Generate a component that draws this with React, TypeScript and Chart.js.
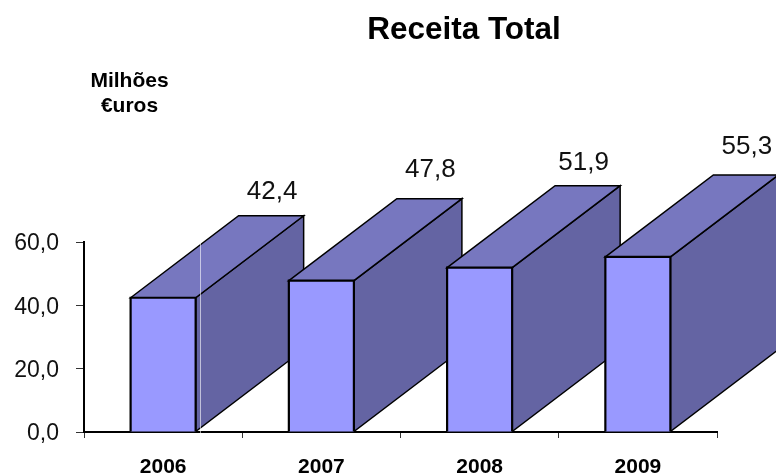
import React, { useEffect, useRef } from "react";
import { Chart, registerables } from "chart.js";

Chart.register(...registerables);

const categories = ["2006", "2007", "2008", "2009"];
const revenue = [42.4, 47.8, 51.9, 55.3];
const yTicks = [0, 20, 40, 60];
const chartTitle = "Receita Total";
const unitLines = ["Milhões", "€uros"];

const FONT = '"Liberation Sans", Arial, sans-serif';
const DEPTH_X = 108;
const DEPTH_Y = 82;
// manual label nudges from the bar's top centre, as placed in the original
const LABEL_NUDGE: [number, number][] = [
  [109, -106],
  [109, -111],
  [104, -105],
  [109, -110],
];

const fmt = (v: number) => v.toFixed(1).replace(".", ",");

const boxPlugin = {
  id: "box3d",
  beforeDatasetsDraw(chart: any) {
    const { ctx } = chart;
    const meta = chart.getDatasetMeta(0);
    ctx.save();
    ctx.lineWidth = 1.5;
    ctx.strokeStyle = "#000";
    ctx.lineJoin = "miter";
    meta.data.forEach((bar: any) => {
      const half = bar.width / 2;
      const l = bar.x - half;
      const r = bar.x + half;
      const t = bar.y;
      const b = bar.base;
      ctx.beginPath();
      ctx.moveTo(r, t);
      ctx.lineTo(r + DEPTH_X, t - DEPTH_Y);
      ctx.lineTo(r + DEPTH_X, b - DEPTH_Y);
      ctx.lineTo(r, b);
      ctx.closePath();
      ctx.fillStyle = "#6464a3";
      ctx.fill();
      ctx.stroke();
      ctx.beginPath();
      ctx.moveTo(l, t);
      ctx.lineTo(l + DEPTH_X, t - DEPTH_Y);
      ctx.lineTo(r + DEPTH_X, t - DEPTH_Y);
      ctx.lineTo(r, t);
      ctx.closePath();
      ctx.fillStyle = "#7777bf";
      ctx.fill();
      ctx.stroke();
    });
    ctx.restore();
  },
  afterDatasetsDraw(chart: any) {
    const { ctx, chartArea } = chart;
    const meta = chart.getDatasetMeta(0);
    ctx.save();
    // front-face outline, centred on the bar's edges
    ctx.strokeStyle = "#000";
    ctx.lineWidth = 2.2;
    ctx.lineJoin = "miter";
    meta.data.forEach((bar: any) => {
      const half = bar.width / 2;
      ctx.beginPath();
      ctx.moveTo(bar.x - half, bar.base);
      ctx.lineTo(bar.x - half, bar.y);
      ctx.lineTo(bar.x + half, bar.y);
      ctx.lineTo(bar.x + half, bar.base);
      ctx.stroke();
    });
    // faint vertical seam crossing the first box in the original
    ctx.strokeStyle = "rgba(255,255,255,0.6)";
    ctx.lineWidth = 1;
    const seam = Math.round(meta.data[0].x + 37) + 0.5;
    ctx.beginPath();
    ctx.moveTo(seam, chartArea.top);
    ctx.lineTo(seam, chartArea.bottom + 1);
    ctx.stroke();

    ctx.fillStyle = "#111";
    ctx.textAlign = "center";
    ctx.textBaseline = "middle";
    ctx.font = `26px ${FONT}`;
    meta.data.forEach((bar: any, i: number) => {
      const [dx, dy] = LABEL_NUDGE[i];
      ctx.fillText(fmt(revenue[i]), bar.x + dx, bar.y + dy);
    });
    ctx.fillStyle = "#000";
    ctx.font = `bold 31.5px ${FONT}`;
    ctx.fillText(chartTitle, 464, 30);
    ctx.font = `bold 21px ${FONT}`;
    unitLines.forEach((line, i) => ctx.fillText(line, 129.5, 81 + i * 25));
    ctx.restore();
  },
};

export default function App() {
  const ref = useRef<HTMLCanvasElement>(null);
  useEffect(() => {
    document.body.style.margin = "0";
    const chart = new Chart(ref.current!, {
      type: "bar",
      data: {
        labels: categories,
        datasets: [
          {
            label: "Receita Total",
            data: revenue,
            backgroundColor: "#9999ff",
            borderWidth: 0,
            barPercentage: 0.411,
            categoryPercentage: 1,
          },
        ],
      },
      options: {
        responsive: false,
        animation: false,
        devicePixelRatio: 1,
        layout: { padding: { top: 242, right: 59, left: 0, bottom: 0 } },
        plugins: { legend: { display: false }, title: { display: false }, tooltip: { enabled: false } },
        scales: {
          x: {
            afterFit: (s: any) => {
              s.height = 44;
            },
            grid: {
              offset: true,
              drawOnChartArea: false,
              drawTicks: true,
              tickLength: 6,
              tickColor: "#333",
            },
            border: { color: "#000", width: 2 },
            ticks: {
              color: "#000",
              font: { family: FONT, size: 21, weight: "bold" },
              padding: 17,
              maxRotation: 0,
            },
          },
          y: {
            min: 0,
            max: 60,
            afterFit: (s: any) => {
              s.width = 84;
            },
            afterBuildTicks: (s: any) => {
              s.ticks = yTicks.map((value) => ({ value }));
            },
            grid: {
              drawOnChartArea: false,
              drawTicks: true,
              tickLength: 8,
              tickColor: "#333",
            },
            border: { color: "#000", width: 2 },
            ticks: {
              color: "#111",
              font: { family: FONT, size: 23 },
              padding: 17,
              labelOffset: 2,
              callback: (v: any) => fmt(Number(v)),
            },
          },
        },
      },
      plugins: [boxPlugin],
    } as any);
    return () => chart.destroy();
  }, []);
  return (
    <div style={{ width: 776, height: 476, background: "#fff" }}>
      <canvas ref={ref} width={776} height={476} style={{ display: "block" }} />
    </div>
  );
}
